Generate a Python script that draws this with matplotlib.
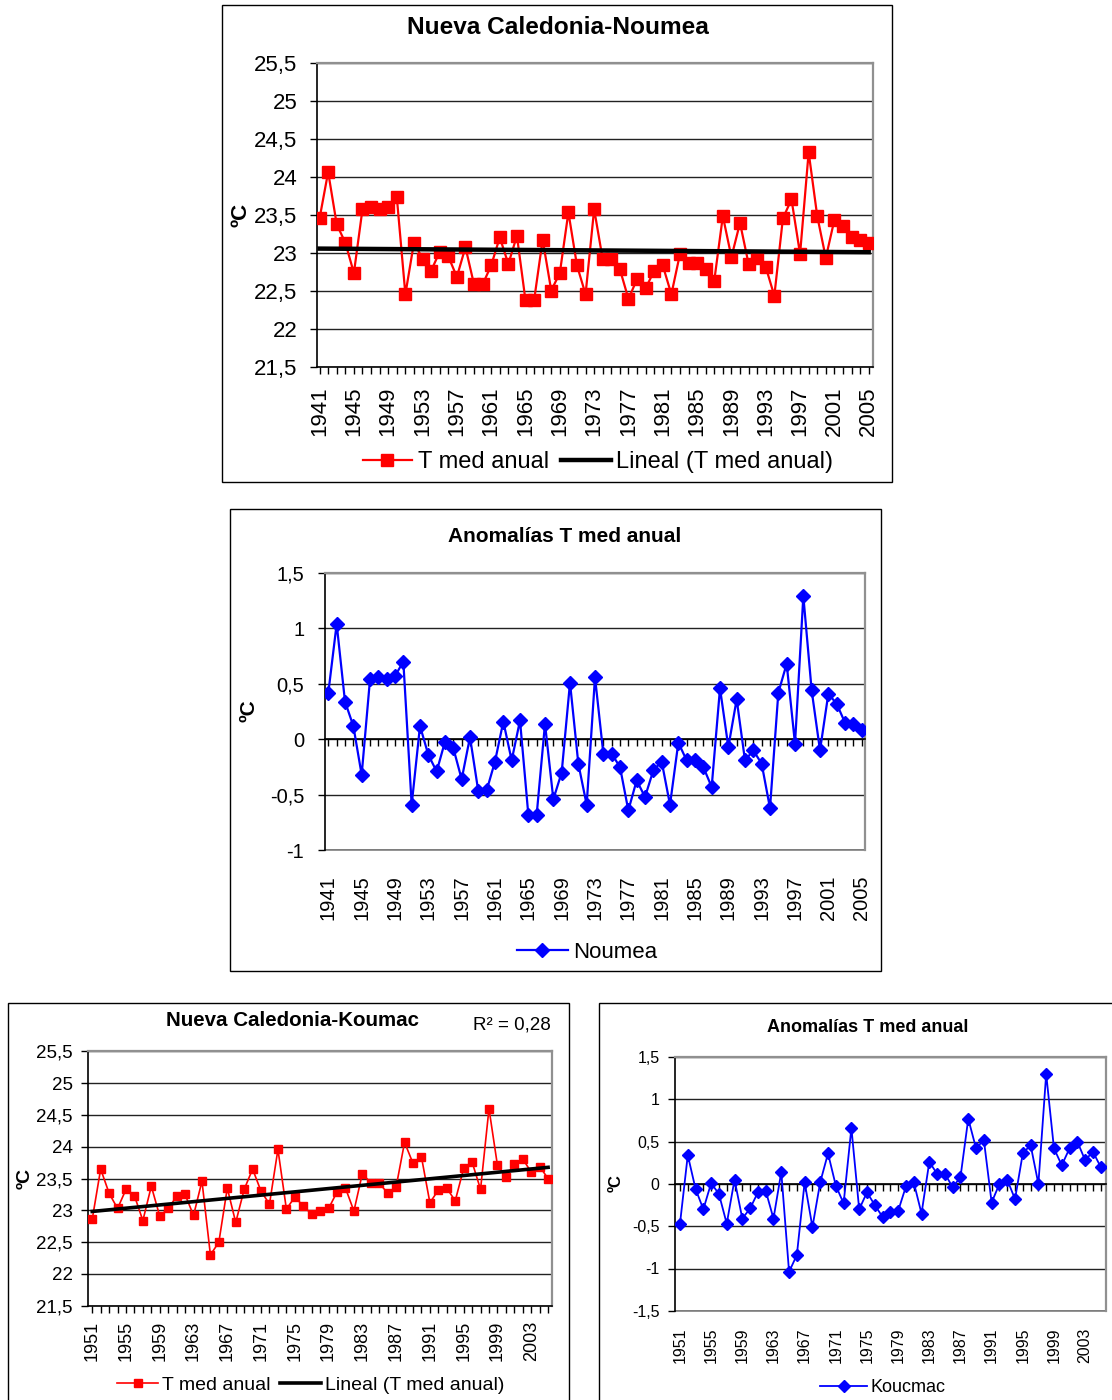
import numpy as np
import matplotlib
matplotlib.use("Agg")
import matplotlib.pyplot as plt
from matplotlib.patches import Rectangle
from matplotlib.lines import Line2D
from matplotlib.ticker import MultipleLocator, FixedLocator, FuncFormatter

plt.rcParams['font.family'] = ['Liberation Sans', 'DejaVu Sans']

# ---------------- data ----------------
noumea_years = np.arange(1941, 2006)
noumea_temp = [23.46, 24.07, 23.38, 23.14, 22.74, 23.58, 23.61, 23.58, 23.61, 23.74,
               22.46, 23.14, 22.93, 22.77, 23.02, 22.96, 22.69, 23.08, 22.59, 22.59,
               22.84, 23.21, 22.86, 23.23, 22.38, 22.38, 23.18, 22.51, 22.74, 23.54,
               22.84, 22.46, 23.58, 22.92, 22.92, 22.79, 22.40, 22.66, 22.54, 22.77,
               22.84, 22.46, 22.99, 22.87, 22.87, 22.79, 22.64, 23.49, 22.95, 23.40,
               22.86, 22.94, 22.82, 22.44, 23.46, 23.71, 22.99, 24.33, 23.49, 22.94,
               23.44, 23.36, 23.21, 23.17, 23.13]
noumea_anom = [0.42, 1.04, 0.34, 0.12, -0.32, 0.54, 0.56, 0.54, 0.57, 0.70,
               -0.59, 0.12, -0.14, -0.29, -0.02, -0.08, -0.36, 0.02, -0.47, -0.46,
               -0.20, 0.16, -0.19, 0.17, -0.68, -0.68, 0.14, -0.54, -0.30, 0.51,
               -0.22, -0.59, 0.56, -0.13, -0.13, -0.25, -0.64, -0.37, -0.52, -0.28,
               -0.20, -0.59, -0.03, -0.19, -0.19, -0.25, -0.43, 0.46, -0.07, 0.36,
               -0.19, -0.10, -0.22, -0.62, 0.42, 0.68, -0.04, 1.29, 0.44, -0.10,
               0.41, 0.32, 0.15, 0.14, 0.08]

koumac_years = np.arange(1951, 2006)
koumac_temp = [22.86, 23.65, 23.27, 23.03, 23.33, 23.23, 22.84, 23.38, 22.91, 23.03,
               23.22, 23.25, 22.92, 23.46, 22.30, 22.50, 23.35, 22.81, 23.33, 23.65,
               23.30, 23.10, 23.96, 23.02, 23.21, 23.07, 22.94, 22.99, 23.03, 23.29,
               23.35, 22.99, 23.58, 23.43, 23.43, 23.27, 23.37, 24.07, 23.74, 23.84,
               23.12, 23.32, 23.35, 23.15, 23.66, 23.76, 23.33, 24.60, 23.71, 23.53,
               23.73, 23.81, 23.60, 23.69, 23.50]
koumac_anom = [-0.47, 0.34, -0.06, -0.30, 0.01, -0.12, -0.47, 0.05, -0.41, -0.29,
               -0.10, -0.08, -0.41, 0.14, -1.04, -0.84, 0.02, -0.51, 0.02, 0.36,
               -0.02, -0.23, 0.66, -0.30, -0.10, -0.25, -0.39, -0.33, -0.32, -0.03,
               0.02, -0.35, 0.26, 0.12, 0.12, -0.04, 0.08, 0.77, 0.42, 0.52,
               -0.22, 0.00, 0.05, -0.18, 0.36, 0.46, 0.00, 1.30, 0.42, 0.22,
               0.42, 0.50, 0.28, 0.38, 0.20]
koumac_r2_text = "R² = 0,28"

temp_yticks = [21.5, 22, 22.5, 23, 23.5, 24, 24.5, 25, 25.5]
noumea_anom_yticks = [-1, -0.5, 0, 0.5, 1, 1.5]
koumac_anom_yticks = [-1.5, -1, -0.5, 0, 0.5, 1, 1.5]

# ---------------- layout helpers ----------------
W, H = 1112, 1400
fig = plt.figure(figsize=(W / 100, H / 100), dpi=100)


def fx(x):
    return x / W


def fy(y):
    return 1 - y / H


def add_ax(x0, y0, x1, y1):
    return fig.add_axes([fx(x0), fy(y1), (x1 - x0) / W, (y1 - y0) / H])


def panel_box(x0, y0, x1, y1):
    fig.patches.append(Rectangle((fx(x0), fy(y1)), (x1 - x0) / W, (y1 - y0) / H,
                                 transform=fig.transFigure, fill=False,
                                 edgecolor='black', lw=1.0))


comma = FuncFormatter(lambda v, p: f"{v:g}".replace('.', ','))
year_fmt = FuncFormatter(lambda v, p: f"{int(round(v))}")


def style_axes(ax, yticks, years, tick_fs, xlab_fs, ypad, xpad):
    ax.set_yticks(yticks)
    ax.yaxis.set_major_formatter(comma)
    ax.xaxis.set_major_locator(FixedLocator(years[::4]))
    ax.xaxis.set_minor_locator(FixedLocator(years))
    ax.xaxis.set_major_formatter(year_fmt)
    for s in ('top', 'right'):
        ax.spines[s].set_color('#909090')
        ax.spines[s].set_linewidth(1.6)
    ax.spines['left'].set_color('black')
    ax.spines['left'].set_linewidth(1.2)
    ax.spines['bottom'].set_color('black')
    ax.spines['bottom'].set_linewidth(1.2)
    ax.tick_params(axis='y', direction='out', length=5, width=1, pad=ypad,
                   labelsize=tick_fs, colors='black')
    ax.tick_params(axis='x', which='both', direction='out', length=5, width=1,
                   pad=xpad, labelsize=xlab_fs, labelrotation=90)
    ax.grid(axis='y', color='#222222', lw=1.0)
    ax.set_axisbelow(True)


def anomaly_axis(ax, years, xlab_fs, xpad):
    # x axis crosses at zero; year labels stay along the bottom edge
    ax.spines['bottom'].set_position(('data', 0))
    ax.tick_params(axis='x', which='both', labelbottom=False)
    sec = ax.secondary_xaxis(0.0)
    sec.xaxis.set_major_locator(FixedLocator(years[::4]))
    sec.xaxis.set_minor_locator(FixedLocator([]))
    sec.xaxis.set_major_formatter(year_fmt)
    sec.tick_params(axis='x', which='both', length=0, pad=xpad,
                    labelsize=xlab_fs, labelrotation=90)
    sec.spines['bottom'].set_color('#808080')
    sec.spines['bottom'].set_linewidth(1.2)
    return sec


# ---------------- panel 1: Noumea temperature ----------------
panel_box(222, 5, 892, 482)
ax1 = add_ax(317, 63.3, 873, 367.3)
ax1.plot(noumea_years, noumea_temp, color='#FF0000', lw=1.6, marker='s', ms=8,
         mec='#FF0000', mfc='#FF0000', zorder=3)
c1 = np.polyfit(noumea_years, noumea_temp, 1)
ax1.plot(noumea_years, np.polyval(c1, noumea_years), color='black', lw=3.2, zorder=4)
ax1.set_xlim(1940.7, 2005.5)
ax1.set_ylim(21.5, 25.5)
style_axes(ax1, temp_yticks, noumea_years, 16, 16, 9, 9)
fig.text(fx(558), fy(27), "Nueva Caledonia-Noumea", ha='center', va='center',
         fontsize=17.6, fontweight='bold')
fig.text(fx(241), fy(215), "ºC", ha='center', va='center', rotation=90,
         fontsize=16, fontweight='bold')
h1 = [Line2D([], [], color='#FF0000', lw=1.6, marker='s', ms=8),
      Line2D([], [], color='black', lw=3.2)]
fig.legend(h1, ["T med anual", "Lineal (T med anual)"], loc='center',
           bbox_to_anchor=(fx(598), fy(462)), ncol=2, frameon=False, fontsize=17,
           handlelength=2.1, handletextpad=0.25, columnspacing=0.5, numpoints=1,
           borderpad=0, borderaxespad=0)

# ---------------- panel 2: Noumea anomalies ----------------
panel_box(230, 509, 881, 971)
ax2 = add_ax(325, 572.8, 865, 850.3)
ax2.plot(noumea_years, noumea_anom, color='#0000FF', lw=1.6, marker='D', ms=7,
         mec='#0000FF', mfc='#0000FF', zorder=3)
ax2.set_xlim(1940.6, 2005.4)
ax2.set_ylim(-1, 1.5)
style_axes(ax2, noumea_anom_yticks, noumea_years, 14.5, 14.5, 10, 0)
anomaly_axis(ax2, noumea_years, 14.5, 18)
fig.text(fx(565), fy(537), "Anomalías T med anual", ha='center', va='center',
         fontsize=15, fontweight='bold')
fig.text(fx(249), fy(711), "ºC", ha='center', va='center', rotation=90,
         fontsize=15, fontweight='bold')
h2 = [Line2D([], [], color='#0000FF', lw=1.6, marker='D', ms=7)]
fig.legend(h2, ["Noumea"], loc='center', bbox_to_anchor=(fx(587), fy(952)),
           frameon=False, fontsize=16, handlelength=2.3, handletextpad=0.25,
           numpoints=1, borderpad=0, borderaxespad=0)

# ---------------- panel 3: Koumac temperature ----------------
panel_box(8, 1003, 569, 1412)
ax3 = add_ax(88, 1051.4, 552.3, 1305.8)
ax3.plot(koumac_years, koumac_temp, color='#FF0000', lw=1.2, marker='s', ms=6.4,
         mec='#FF0000', mfc='#FF0000', zorder=3)
c3 = np.polyfit(koumac_years, koumac_temp, 1)
ax3.plot(koumac_years, np.polyval(c3, koumac_years), color='black', lw=2.6, zorder=4)
ax3.set_xlim(1950.5, 2005.5)
ax3.set_ylim(21.5, 25.5)
style_axes(ax3, temp_yticks, koumac_years, 13.5, 13, 6, 6)
fig.text(fx(292), fy(1020), "Nueva Caledonia-Koumac", ha='center', va='center',
         fontsize=14.8, fontweight='bold')
fig.text(fx(551), fy(1025), koumac_r2_text, ha='right', va='center', fontsize=13.5)
fig.text(fx(25), fy(1178), "ºC", ha='center', va='center', rotation=90,
         fontsize=14, fontweight='bold')
h3 = [Line2D([], [], color='#FF0000', lw=1.2, marker='s', ms=6.4),
      Line2D([], [], color='black', lw=2.6)]
fig.legend(h3, ["T med anual", "Lineal (T med anual)"], loc='center',
           bbox_to_anchor=(fx(311), fy(1385)), ncol=2, frameon=False, fontsize=14,
           handlelength=2.1, handletextpad=0.2, columnspacing=0.5, numpoints=1,
           borderpad=0, borderaxespad=0)

# ---------------- panel 4: Koumac anomalies ----------------
panel_box(599, 1003, 1125, 1412)
ax4 = add_ax(675, 1057, 1105.7, 1310.8)
ax4.plot(koumac_years, koumac_anom, color='#0000FF', lw=1.3, marker='D', ms=5.8,
         mec='#0000FF', mfc='#0000FF', zorder=3)
ax4.set_xlim(1950.36, 2005.64)
ax4.set_ylim(-1.5, 1.5)
style_axes(ax4, koumac_anom_yticks, koumac_years, 11.5, 11.5, 6, 0)
anomaly_axis(ax4, koumac_years, 11.5, 12)
fig.text(fx(868), fy(1028), "Anomalías T med anual", ha='center', va='center',
         fontsize=13, fontweight='bold')
fig.text(fx(616), fy(1183), "ºC", ha='center', va='center', rotation=90,
         fontsize=12, fontweight='bold')
h4 = [Line2D([], [], color='#0000FF', lw=1.3, marker='D', ms=5.8)]
fig.legend(h4, ["Koucmac"], loc='center', bbox_to_anchor=(fx(883), fy(1388)),
           frameon=False, fontsize=13, handlelength=2.6, handletextpad=0.2,
           numpoints=1, borderpad=0, borderaxespad=0)

fig.savefig("out.png", dpi=100)
